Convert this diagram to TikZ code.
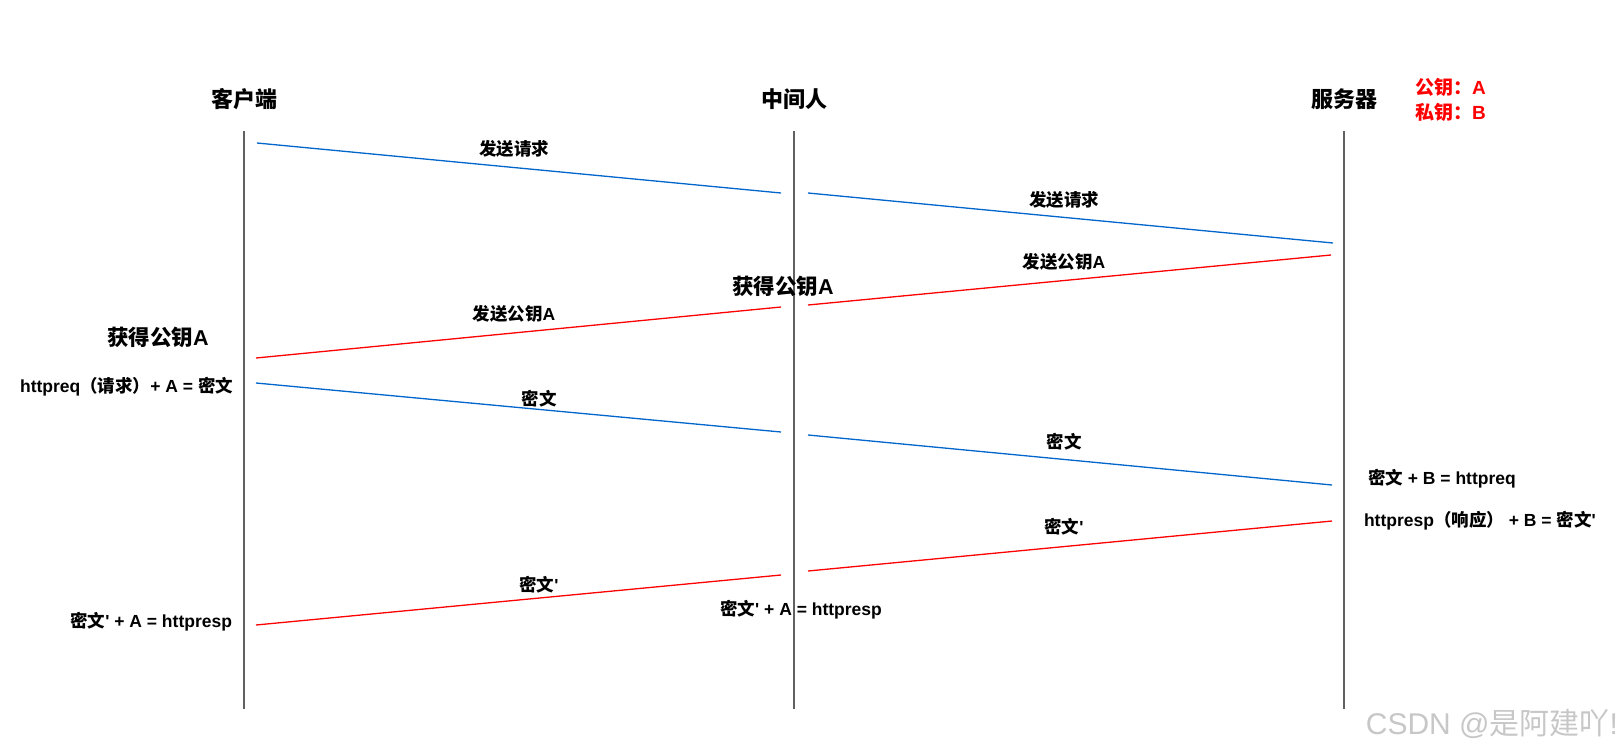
\documentclass[tikz,border=0pt]{standalone}
\usepackage{fontspec}
\setmainfont{Liberation Sans}[Ligatures=TeXOff]
\newfontfamily\cjk{Noto Sans CJK SC}[Ligatures=TeXOff]
\newcommand\zh[1]{{\cjk #1}}
\definecolor{msgblue}{RGB}{0,102,204}
\definecolor{msgred}{RGB}{255,0,0}
\definecolor{lifegray}{RGB}{96,96,96}
\begin{document}
\begin{tikzpicture}[x=1pt,y=-1pt,
  every node/.style={inner sep=0pt, outer sep=0pt},
  lifeline/.style={draw=lifegray, line width=2pt},
  bluemsg/.style={draw=msgblue, line width=1.3pt},
  redmsg/.style={draw=msgred, line width=1.3pt},
  title/.style={font=\fontsize{22}{24}\selectfont\bfseries},
  big/.style={font=\fontsize{21.5}{24}\selectfont\bfseries},
  lab/.style={font=\fontsize{17.5}{20}\selectfont\bfseries},
  keylab/.style={font=\fontsize{19}{21}\selectfont\bfseries, text=msgred},
  wm/.style={font=\fontsize{30}{32}\selectfont, text=black!22}]
\useasboundingbox (0,0) rectangle (1621,753);
% lifelines
\coordinate (c1) at (244,131); \coordinate (c2) at (244,709);
\coordinate (m1) at (794,131); \coordinate (m2) at (794,709);
\coordinate (s1) at (1344,131); \coordinate (s2) at (1344,709);
\draw[lifeline] (c1) -- (c2);
\draw[lifeline] (m1) -- (m2);
\draw[lifeline] (s1) -- (s2);
% titles
\node[title] (tc) at (244,99) {\zh{客户端}};
\node[title] (tm) at (794,99) {\zh{中间人}};
\node[title] (ts) at (1344,99) {\zh{服务器}};
\node[keylab, anchor=west] (k1) at (1415,87) {\zh{公钥：}A};
\node[keylab, anchor=west] (k2) at (1415,112) {\zh{私钥：}B};
% message endpoints
\coordinate (b1a) at (257,143);  \coordinate (b1b) at (781,193);
\coordinate (b2a) at (808,193);  \coordinate (b2b) at (1333,243);
\coordinate (r1a) at (1331,255); \coordinate (r1b) at (808,305);
\coordinate (r2a) at (781,307);  \coordinate (r2b) at (256,358);
\coordinate (b3a) at (256,383);  \coordinate (b3b) at (781,432);
\coordinate (b4a) at (808,435);  \coordinate (b4b) at (1332,485);
\coordinate (r3a) at (1332,521); \coordinate (r3b) at (808,571);
\coordinate (r4a) at (781,575);  \coordinate (r4b) at (256,625);
\draw[bluemsg] (b1a) -- (b1b);
\draw[bluemsg] (b2a) -- (b2b);
\draw[redmsg] (r1a) -- (r1b);
\draw[redmsg] (r2a) -- (r2b);
\draw[bluemsg] (b3a) -- (b3b);
\draw[bluemsg] (b4a) -- (b4b);
\draw[redmsg] (r3a) -- (r3b);
\draw[redmsg] (r4a) -- (r4b);
% labels
\node[lab] (l1) at (514,149) {\zh{发送请求}};
\node[lab] (l2) at (1064,200) {\zh{发送请求}};
\node[lab] (l3) at (1064,262) {\zh{发送公钥}A};
\node[big] (g1) at (783,286) {\zh{获得公钥}A};
\node[lab] (l4) at (514,314) {\zh{发送公钥}A};
\node[big] (g2) at (158,337) {\zh{获得公钥}A};
\node[lab, anchor=east] (e1) at (233,387) {httpreq\zh{（请求）}+ A = \zh{密文}};
\node[lab] (l5) at (539,399) {\zh{密文}};
\node[lab] (l6) at (1064,442) {\zh{密文}};
\node[lab, anchor=west] (e2) at (1368,479) {\zh{密文} + B = httpreq};
\node[lab, anchor=west] (e3) at (1364,521) {httpresp\zh{（响应）} + B = \zh{密文}'};
\node[lab] (l7) at (1064,527) {\zh{密文}'};
\node[lab] (l8) at (539,585) {\zh{密文}'};
\node[lab, anchor=east] (e4) at (232,622) {\zh{密文}' + A = httpresp};
\node[lab] (e5) at (801,610) {\zh{密文}' + A = httpresp};
\node[wm, anchor=east] (w) at (1618,724) {CSDN @\zh{是阿建吖}!};
\end{tikzpicture}
\end{document}
